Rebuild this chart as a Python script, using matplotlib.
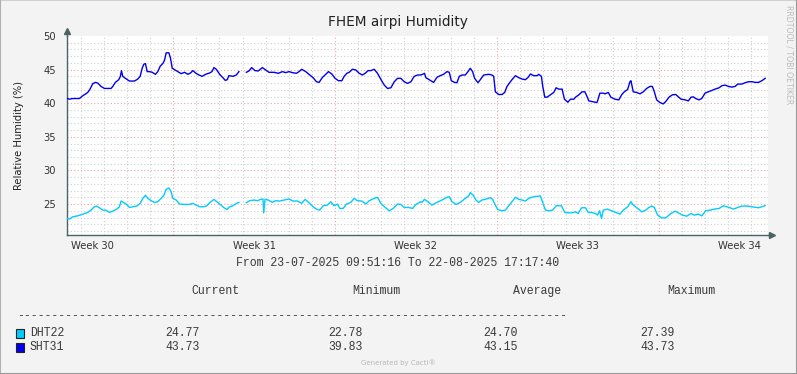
import numpy as np
import pandas as pd
import matplotlib
matplotlib.use("Agg")
import matplotlib.pyplot as plt

# time window of the graph
t_start = pd.Timestamp("2025-07-23 09:51:16")
t_end = pd.Timestamp("2025-08-22 17:17:40")

# SHT31 readings: hours after t_start, relative humidity (%)
sht_hours = [0, 2.4, 5.9, 12.8, 16.3, 21.5, 23.9, 26.7, 29.4, 31.9, 35.3, 38.8, 45.7, 47.5,
             50.2, 53.7, 55.4, 56.5, 57.9, 60.6, 64.8, 70.0, 73.5, 75.9, 78.0, 79.7, 81.4,
             83.2, 85.6, 88.4, 91.8, 94.2, 96.7, 99.4, 101.2, 102.9, 105.7, 107.4, 109.2,
             111.6, 115.0, 118.5, 122.0, 125.4, 128.2, 130.6, 133.4, 136.9, 140.3, 143.8,
             148.0, 150.4, 152.5, 154.9, 158.4, 161.8, 164.2, 166.3, 168.0, 172.2, 175.7,
             178.4, 182.0,
             186.1, 188.8, 191.6, 195.1, 198.5, 202.7, 206.2, 209.6, 214.8, 219.3, 223.5,
             226.9, 230.4, 233.9, 238.0, 240.8, 243.6, 247.7, 251.2, 255.4, 258.8, 261.6,
             265.1, 268.5, 271.3, 274.8, 278.2, 281.7, 285.2, 287.6, 290.4, 292.8, 296.2,
             299.7, 303.2, 306.6, 309.4, 312.5, 315.3, 318.8, 322.2, 325.7, 329.2, 332.6,
             336.1, 339.6, 343.0, 346.5, 349.9, 353.4, 356.9, 360.3, 363.8, 366.9,
             369.0, 371.0, 372.4, 375.9, 380.4, 383.9, 387.3, 390.8, 394.3, 396.7, 398.8,
             402.2, 404.6, 407.1, 409.8, 413.3, 416.1, 418.5, 420.9, 423.0, 426.5, 428.9,
             432.4, 437.6, 441.0, 442.8, 444.5, 448.0, 451.4, 454.2, 456.6, 460.1, 462.9,
             465.3, 468.8, 472.2, 475.7, 478.5, 480.9, 484.3, 487.8, 489.5, 492.3, 493.7,
             495.8, 498.2, 501.7, 505.1, 507.6, 510.3, 513.8, 516.2, 519.7, 522.5, 525.9,
             527.7, 531.1, 534.6, 537.4, 539.8, 541.5, 545.0, 549.8,
             550.6, 553.0, 556.5, 558.2, 561.7, 564.4, 568.6, 572.7, 575.5, 578.3, 581.8,
             584.2, 585.2, 587.6, 591.1, 594.6, 598.0, 601.5, 605.0, 607.4, 609.5, 611.9,
             615.4, 618.8, 621.3, 624.7, 628.2, 631.7, 634.4, 637.2, 641.4, 644.8, 647.6,
             650.0, 652.4, 655.9, 658.7, 662.1, 665.6, 669.1, 672.5, 676.7, 679.5, 682.9,
             686.4, 689.9, 693.3, 696.1, 700.3, 703.7, 707.2, 710.7, 714.1, 717.6, 721.1,
             724.5]
sht_values = [40.73, 40.6, 40.7, 40.7, 41.1, 41.6, 42.1, 42.9, 43.1, 43.0, 42.5, 42.2, 42.2, 42.5,
              43.1, 43.5, 44.0, 44.85, 44.0, 43.7, 43.3, 43.3, 43.6, 44.0, 45.2, 45.8, 45.9,
              44.7, 44.7, 44.6, 44.3, 44.7, 45.5, 45.9, 46.4, 47.5, 47.5, 46.7, 45.2,
              45.0, 44.7, 44.4, 44.6, 44.3, 44.5, 44.85, 44.5, 44.2, 44.0, 44.3,
              44.5, 44.7, 45.3, 45.05, 44.3, 43.8, 43.4, 43.5, 44.1, 44.0, 44.2,
              44.7, np.nan,
              44.6, 44.8, 45.3, 44.85, 44.8, 45.3, 44.95, 44.6, 44.6, 44.45, 44.7,
              44.55, 44.7, 44.55, 44.45, 44.7, 45.05, 44.7, 44.3, 43.8, 43.2, 43.1,
              43.85, 44.3, 44.7, 44.35, 43.7, 43.35, 43.35, 44.0, 44.45, 44.6, 45.05,
              44.95, 44.45, 44.2, 44.45, 44.85, 44.85, 45.05, 44.45, 43.55, 42.7, 42.2,
              42.3, 43.2, 43.7, 43.7, 43.2, 42.95, 43.2, 44.0, 44.2, 44.2,
              44.3, 44.45, 43.8, 43.5, 43.1, 43.85, 44.1, 44.3, 44.7, 44.6, 43.35,
              43.1, 43.05, 44.0, 44.2, 44.2, 44.7, 45.2, 44.7, 43.7, 43.05, 43.5,
              44.2, 44.3, 44.2, 44.0, 41.7, 41.3, 41.3, 41.6, 42.5, 43.2, 43.7,
              44.1, 43.8, 43.6, 43.5, 43.85, 44.35, 44.1, 44.1, 44.3, 44.0, 42.5,
              40.9, 40.9, 41.25, 41.6, 42.3, 42.1, 42.1, 40.6, 40.15, 40.6, 40.6,
              40.9, 41.25, 41.7, 41.7, 40.95, 40.35, 40.25, 40.1,
              40.35, 41.5, 41.5, 41.4, 41.6, 40.9, 40.6, 40.5, 41.25, 41.7, 42.05,
              43.2, 43.35, 41.7, 41.6, 41.4, 41.7, 42.2, 42.5, 42.5, 41.7, 40.5,
              40.1, 39.9, 40.25, 40.9, 41.25, 41.3, 40.95, 40.6, 40.5, 40.35, 40.9,
              40.95, 40.7, 40.5, 40.7, 41.5, 41.7, 41.9, 42.1, 42.3, 42.6, 42.7,
              42.5, 42.4, 42.5, 42.85, 42.85, 43.05, 43.2, 43.2, 43.1, 43.1, 43.35,
              43.7]

# DHT22 readings
dht_hours = [0, 2.4, 5.9, 11.1, 16.3, 21.5, 24.9, 28.4, 30.8, 33.6, 37.1, 40.5, 44.0, 47.5,
             51.6, 54.4, 56.1, 58.6, 61.3, 64.8, 68.3, 72.4, 75.9, 78.7, 81.4, 83.9, 87.3,
             90.8, 94.2, 97.7, 100.5, 102.9, 105.7, 108.1, 109.8, 113.3, 116.8, 122.0,
             127.2, 130.6, 134.1, 137.6, 141.7, 145.2, 148.0, 152.5, 155.6, 159.0, 162.5,
             166.0, 168.7, 172.2, 175.7, 178.4, 182.0,
             186.1, 189.5, 194.0, 197.5, 201.0, 203.4, 204.1, 205.5, 208.9, 213.1, 216.5,
             220.7, 225.2, 230.4, 234.6, 239.1, 243.6, 247.0, 251.2, 255.4, 258.8, 262.3,
             265.8, 270.3, 273.7, 277.2, 280.6, 283.1, 286.5, 290.0, 294.5, 298.0, 301.4,
             305.9, 310.1, 313.6, 318.8, 322.2, 325.7, 330.2, 334.4, 338.5, 343.0, 346.5,
             349.9, 354.5, 358.6, 362.1, 366.9,
             368.3, 371.0, 374.5, 378.7, 383.9, 389.1, 394.3, 396.7, 399.5, 403.6, 408.1,
             413.3, 416.8, 418.5, 421.3, 424.4, 427.2, 430.6, 435.1, 439.3, 441.7, 444.5,
             446.9, 451.4, 454.9, 458.4, 461.8, 465.3, 468.8, 472.2, 475.7, 479.1, 484.3,
             491.3, 493.7, 496.5, 500.6, 504.1, 507.6, 513.1, 516.6, 520.0, 524.2, 527.7,
             530.4, 533.9, 538.1, 540.8, 545.0, 549.8,
             550.6, 552.7, 554.7, 556.5, 561.0, 565.1, 570.3, 573.8, 577.3, 581.8, 585.2,
             587.6, 592.2, 596.3, 600.5, 603.9, 606.7, 609.5, 612.9, 617.1, 621.3, 625.8,
             631.0, 634.4, 638.6, 643.1, 647.6, 651.1, 655.2, 658.7, 662.8, 667.3, 671.8,
             676.7, 681.2, 684.7, 688.1, 691.6, 696.1, 700.3, 705.5, 710.7, 717.6, 721.1,
             724.5]
dht_values = [22.85, 22.78, 23.1, 23.25, 23.5, 23.75, 24.1, 24.6, 24.7, 24.45, 24.1, 24.1, 23.75, 23.95,
              24.25, 24.6, 25.45, 25.25, 25.0, 24.5, 24.6, 24.7, 25.1, 25.85, 26.3, 25.85, 25.5,
              25.25, 25.35, 25.85, 26.3, 27.2, 27.39, 26.85, 25.85, 25.6, 25.0, 24.95,
              24.95, 25.1, 24.85, 24.6, 24.6, 24.75, 25.2, 25.7, 25.35, 24.95, 24.5,
              24.2, 24.6, 24.75, 25.1, 25.25, np.nan,
              25.2, 25.5, 25.6, 25.5, 25.7, 25.75, 23.7, 25.7, 25.6, 25.25, 25.5,
              25.45, 25.6, 25.75, 25.45, 25.45, 25.1, 25.7, 25.2, 24.6, 24.25, 24.1,
              24.75, 24.85, 25.35, 24.75, 25.0, 24.35, 24.35, 25.0, 25.25, 25.85, 25.5,
              25.45, 25.0, 25.5, 25.85, 26.0, 25.1, 24.5, 24.0, 24.35, 25.0, 24.95,
              24.5, 24.5, 24.35, 24.95, 25.35,
              25.25, 25.7, 25.35, 24.85, 25.25, 25.6, 26.0, 26.1, 25.35, 24.95, 25.25,
              25.85, 26.2, 26.7, 26.35, 25.6, 25.25, 25.6, 25.75, 25.95, 25.7, 24.85,
              24.2, 24.0, 24.1, 24.75, 25.35, 26.0, 25.7, 25.6, 25.45, 25.85, 26.1,
              26.2, 25.2, 24.1, 24.0, 24.1, 24.75, 24.75, 23.75, 23.7, 23.7, 23.85,
              23.6, 24.45, 24.45, 23.75, 23.75, 23.5,
              23.35, 24.0, 22.85, 24.1, 24.25, 24.0, 23.7, 23.5, 24.1, 24.6, 25.35,
              24.85, 24.35, 23.85, 24.1, 24.5, 24.7, 24.5, 23.35, 22.95, 22.95, 23.5,
              23.95, 23.7, 23.35, 23.2, 23.6, 23.35, 23.5, 23.25, 24.0, 24.1, 24.25,
              24.35, 24.75, 24.6, 24.45, 24.25, 24.5, 24.7, 24.7, 24.6, 24.45, 24.6,
              24.77]

series_names = ["DHT22", "SHT31"]
series_colors = ["#00CCFF", "#0000EE"]
stats_header = ["Current", "Minimum", "Average", "Maximum"]
stats_dht = ["24.77", "22.78", "24.70", "27.39"]
stats_sht = ["43.73", "39.83", "43.15", "43.73"]

W, H = 797, 374
bg = "#F3F3F3"
axis_col = "#4A6363"
fig = plt.figure(figsize=(W / 100, H / 100), dpi=100, facecolor=bg)

# plot area in pixels: x 67..768, y 36..235
ax = fig.add_axes([67 / W, (H - 235) / H, (768 - 67) / W, (235 - 36) / H])
ax.set_facecolor("white")

dht_t = t_start + pd.to_timedelta(dht_hours, unit="h")
sht_t = t_start + pd.to_timedelta(sht_hours, unit="h")
ax.plot(dht_t, dht_values, color=series_colors[0], lw=1.0, zorder=3)
ax.plot(sht_t, sht_values, color=series_colors[1], lw=1.0, zorder=3)

ax.set_xlim(t_start, t_end)
ax.set_ylim(20.4, 50)

# grid: minor every day / every 1 %, major at Monday 00:00 / every 5 %
days = pd.date_range(t_start.normalize() + pd.Timedelta(days=1), t_end, freq="D")
for d in days:
    if d.dayofweek == 0:
        ax.axvline(d, color="#E6A8A8", lw=0.8, ls=(0, (1, 2)), zorder=1)
    else:
        ax.axvline(d, color="#CFCFCF", lw=0.8, ls=(0, (1, 2)), zorder=1)
for v in range(21, 50):
    if v % 5 == 0:
        ax.axhline(v, color="#E6A8A8", lw=0.8, ls=(0, (1, 2)), zorder=1)
    else:
        ax.axhline(v, color="#CFCFCF", lw=0.8, ls=(0, (1, 2)), zorder=1)

# week labels centred on Thursday noon
thursdays = pd.date_range(t_start.normalize(), t_end, freq="W-THU") + pd.Timedelta(hours=12)
thursdays = [d for d in thursdays if t_start <= d <= t_end]
ax.set_xticks(thursdays)
ax.set_xticklabels([f"Week {d.isocalendar().week}" for d in thursdays])
ax.set_yticks([25, 30, 35, 40, 45, 50])
ax.tick_params(axis="both", length=0, labelsize=7.2, colors="#333333")
ax.tick_params(axis="x", pad=4)
ax.tick_params(axis="y", pad=8)

for s in ["top", "right"]:
    ax.spines[s].set_visible(False)
for s in ["left", "bottom"]:
    ax.spines[s].set_color(axis_col)
    ax.spines[s].set_linewidth(1)

# axis arrows
ax.plot([0, 0], [1, 1 + 5 / 199], color=axis_col, lw=1, transform=ax.transAxes, clip_on=False)
ax.plot([0], [1 + 5 / 199], marker="^", ms=4, color=axis_col, transform=ax.transAxes, clip_on=False)
ax.plot([1, 1 + 4 / 701], [0, 0], color=axis_col, lw=1, transform=ax.transAxes, clip_on=False)
ax.plot([1 + 4 / 701], [0], marker=">", ms=4, color=axis_col, transform=ax.transAxes, clip_on=False)

ax.set_ylabel("Relative Humidity (%)", fontsize=7.2, color="#222222", labelpad=14)


def px(x, y):
    return x / W, 1 - y / H


fig.text(*px(398, 22), "FHEM airpi Humidity", fontsize=9.8, ha="center", va="center", color="#222222")
fig.text(*px(789, 5), "RRDTOOL / TOBI OETIKER", fontsize=5.6, rotation=270, ha="center", va="top",
         color="#BBBBBB")

mono = "Liberation Mono"
fs = 8.3
tc = "#3A3A3A"
fig.text(*px(398, 263), f"From {t_start:%d-%m-%Y %H:%M:%S} To {t_end:%d-%m-%Y %H:%M:%S}",
         family=mono, fontsize=fs, ha="center", va="center", color=tc)

col_x = [165, 328, 483, 640]
head_x = [191, 352, 513, 667]
for hx, name in zip(head_x, stats_header):
    fig.text(*px(hx, 291), name, family=mono, fontsize=fs, ha="left", va="center", color=tc)
fig.text(*px(17, 316), "-" * 80, family=mono, fontsize=fs, ha="left", va="center", color=tc)

for row_y, name, color, stats in [(333, series_names[0], series_colors[0], stats_dht),
                                  (347, series_names[1], series_colors[1], stats_sht)]:
    fig.patches.append(plt.Rectangle(px(15.5, row_y + 4.5), 8 / W, 9 / H, transform=fig.transFigure,
                                     facecolor=color, edgecolor="#222222", lw=0.8))
    fig.text(*px(30, row_y), name, family=mono, fontsize=fs, ha="left", va="center", color=tc)
    for cx, val in zip(col_x, stats):
        fig.text(*px(cx, row_y), val, family=mono, fontsize=fs, ha="left", va="center", color=tc)

fig.text(*px(398, 363), "Generated by Cacti®", fontsize=5, ha="center", va="center", color="#B8B8B8")

# 3D-ish border of the canvas
fig.add_artist(plt.Line2D([0, 1], [1, 1], transform=fig.transFigure, color="#D0D0D0", lw=1.5))
fig.add_artist(plt.Line2D([0, 0], [0, 1], transform=fig.transFigure, color="#B0B0B0", lw=1.5))
fig.add_artist(plt.Line2D([0, 1], [0, 0], transform=fig.transFigure, color="#999999", lw=1.5))
fig.add_artist(plt.Line2D([1, 1], [0, 1], transform=fig.transFigure, color="#999999", lw=1.5))

fig.savefig("out.png", dpi=100, facecolor=bg)
